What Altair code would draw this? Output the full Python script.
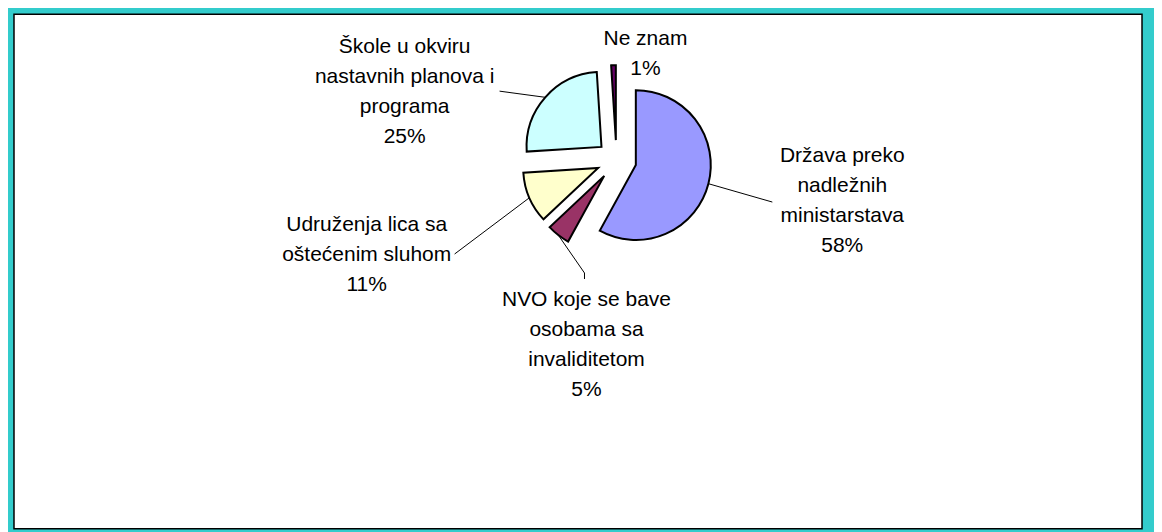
import altair as alt
import pandas as pd

# ---- data ----
names = [
    "Država preko nadležnih ministarstava",
    "NVO koje se bave osobama sa invaliditetom",
    "Udruženja lica sa oštećenim sluhom",
    "Škole u okviru nastavnih planova i programa",
    "Ne znam",
]
values = [58, 5, 11, 25, 1]
label_lines = [
    ["Država preko", "nadležnih", "ministarstava"],
    ["NVO koje se bave", "osobama sa", "invaliditetom"],
    ["Udruženja lica sa", "oštećenim sluhom"],
    ["Škole u okviru", "nastavnih planova i", "programa"],
    ["Ne znam"],
]
colors = ["#9999FF", "#993366", "#FFFFCC", "#CCFFFF", "#660066"]

# ---- layout (view pixel coordinates) ----
CX, CY, R, EXPLODE = 609, 152, 75, 20
label_anchor = [(835, 154), (579, 298), (359, 223), (397, 45), (638, 37)]
leader_end = [(765, 194), (577, 265), (447, 246), (492, 83), (None, None)]
FONT = "Liberation Sans"

df = pd.DataFrame({
    "name": names,
    "value": values,
    "order": list(range(len(names))),
    "label": [lines + [f"{v}%"] for lines, v in zip(label_lines, values)],
    "lx": [p[0] for p in label_anchor],
    "ly": [p[1] for p in label_anchor],
    "ex": [p[0] for p in leader_end],
    "ey": [p[1] for p in leader_end],
})

base = (
    alt.Chart(df)
    .transform_joinaggregate(total="sum(value)")
    .transform_window(cum="sum(value)", sort=[alt.SortField("order")], frame=[None, 0])
    .transform_calculate(t1="datum.cum / datum.total * 2 * PI")
    .transform_calculate(t0="(datum.cum - datum.value) / datum.total * 2 * PI")
    .transform_calculate(mid="(datum.t0 + datum.t1) / 2")
    .transform_calculate(cx=f"{CX} + {EXPLODE} * sin(datum.mid)")
    .transform_calculate(cy=f"{CY} - {EXPLODE} * cos(datum.mid)")
    .transform_calculate(sx=f"datum.cx + {R} * sin(datum.mid)")
    .transform_calculate(sy=f"datum.cy - {R} * cos(datum.mid)")
)

frame = (
    alt.Chart(pd.DataFrame({"a": [0]}))
    .mark_rect(fill="white", stroke="black", strokeWidth=1.5)
    .encode(x=alt.value(6), x2=alt.value(1135), y=alt.value(6), y2=alt.value(521))
)

arcs = base.mark_arc(outerRadius=R, stroke="black", strokeWidth=2, strokeJoin="miter").encode(
    theta=alt.Theta("t0:Q", scale=None),
    theta2="t1:Q",
    x=alt.X("cx:Q", scale=None),
    y=alt.Y("cy:Q", scale=None),
    color=alt.Color("name:N", scale=alt.Scale(domain=names, range=colors), legend=None),
)

leaders = base.transform_filter("isValid(datum.ex)").mark_rule(color="black", strokeWidth=1).encode(
    x=alt.X("sx:Q", scale=None),
    y=alt.Y("sy:Q", scale=None),
    x2="ex:Q",
    y2="ey:Q",
)

elbow = base.transform_filter("datum.order == 1").mark_rule(color="black", strokeWidth=1).encode(
    x=alt.X("ex:Q", scale=None),
    y=alt.Y("ey:Q", scale=None),
    y2=alt.Y2("ey2:Q"),
).transform_calculate(ey2="datum.ey + 6")

labels = base.mark_text(
    font=FONT, fontSize=21, color="black", align="center", baseline="alphabetic", lineHeight=30
).encode(
    x=alt.X("lx:Q", scale=None),
    y=alt.Y("ly:Q", scale=None),
    text=alt.Text("label"),
)

chart = (
    alt.layer(frame, arcs, leaders, elbow, labels)
    .properties(width=1147, height=524, padding=0, autosize=alt.AutoSizeParams(type="none"))
    .configure(background="#33CCCC")
    .configure_view(stroke=None)
)

chart.save("out.html", embed_options={"renderer": "svg", "actions": False})
